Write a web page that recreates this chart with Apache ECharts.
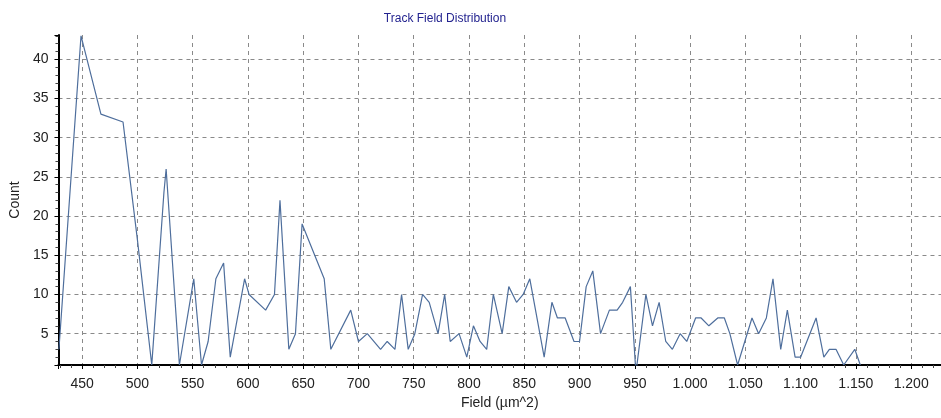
<!DOCTYPE html>
<html>
<head>
<meta charset="utf-8">
<title>Track Field Distribution</title>
<script src="https://cdn.jsdelivr.net/npm/echarts@6/dist/echarts.min.js"></script>
<style>
	html, body { margin: 0; padding: 0; background: #fff; }
	#chart { width: 941px; height: 418px; }
</style>
</head>
<body>
<div id="chart"></div>
<script>
// 横轴：面积 (µm^2)
const fieldValues = [
	429, 449, 467, 487, 500, 513, 524, 526, 538, 551,
	558, 564, 571, 578, 584, 597, 601, 616, 624, 629,
	637, 643, 649, 669, 675, 693, 700, 708, 720, 726,
	733, 739, 745, 751, 758, 764, 772, 778, 783, 791,
	798, 804, 810, 816, 822, 830, 836, 843, 849, 855,
	868, 875, 880, 887, 895, 900, 906, 912, 919, 927,
	934, 939, 946, 951, 960, 966, 972, 978, 984, 991,
	997, 1005, 1010, 1017, 1025, 1031, 1036, 1043, 1056, 1062,
	1069, 1075, 1082, 1088, 1095, 1100, 1114, 1121, 1126, 1132,
	1139, 1149, 1154,
];
// 纵轴：数量
const countValues = [
	3, 43, 33, 32, 17, 1, 23, 26, 1, 12,
	1, 4, 12, 14, 2, 12, 10, 8, 10, 22,
	3, 5, 19, 12, 3, 8, 4, 5, 3, 4,
	3, 10, 3, 5, 10, 9, 5, 10, 4, 5,
	2, 6, 4, 3, 10, 5, 11, 9, 10, 12,
	2, 9, 7, 7, 4, 4, 11, 13, 5, 8,
	8, 9, 11, 0, 10, 6, 9, 4, 3, 5,
	4, 7, 7, 6, 7, 7, 5, 1, 7, 5,
	7, 12, 3, 8, 2, 2, 7, 2, 3, 3,
	1, 3, 1,
];

const xMin = 428.6;
const xMax = 1227;
const yMin = 1;
const yMax = 43.1;

const fontFamily = "'Liberation Sans', Arial, sans-serif";
const gridLine = {
	show: true,
	showMinLine: false,
	showMaxLine: false,
	lineStyle: { color: "#8a8a8a", type: [4, 4], width: 1 },
};

// 千位用点号分隔，如 1.000
function formatField(v) {
	if (v >= 1000) {
		const s = String(Math.round(v));
		return s.slice(0, s.length - 3) + "." + s.slice(-3);
	}
	return String(v);
}

const chart = echarts.init(document.getElementById("chart"), null, { renderer: "canvas" });

const option = {
	animation: false,
	title: {
		text: "Track Field Distribution",
		left: 440,
		top: 8,
		textAlign: "center",
		textStyle: { color: "#23238f", fontSize: 12, fontWeight: "normal", fontFamily },
	},
	grid: { left: 57, right: 0, top: 35, bottom: 53, containLabel: false },
	xAxis: {
		type: "value",
		min: xMin,
		max: xMax,
		splitNumber: 16,
		name: "Field (µm^2)",
		nameLocation: "middle",
		nameGap: 24,
		nameTextStyle: { color: "#222", fontSize: 14, fontFamily },
		axisLine: { show: true, onZero: false, lineStyle: { color: "#000", width: 2 } },
		axisTick: { show: true, length: 4, lineStyle: { color: "#000" } },
		minorTick: { show: true, splitNumber: 5, length: 3, lineStyle: { color: "#444" } },
		axisLabel: {
			color: "#222",
			fontSize: 14,
			fontFamily,
			margin: 12,
			showMinLabel: false,
			showMaxLabel: false,
			formatter: formatField,
		},
		splitLine: gridLine,
	},
	yAxis: {
		type: "value",
		min: yMin,
		max: yMax,
		splitNumber: 8,
		name: "Count",
		nameLocation: "middle",
		nameGap: 33,
		nameTextStyle: { color: "#222", fontSize: 14, fontFamily },
		axisLine: { show: true, onZero: false, lineStyle: { color: "#000", width: 2 } },
		axisTick: { show: true, length: 4, lineStyle: { color: "#000" } },
		minorTick: { show: true, splitNumber: 5, length: 3, lineStyle: { color: "#444" } },
		axisLabel: {
			color: "#222",
			fontSize: 14,
			fontFamily,
			margin: 10,
			showMinLabel: false,
			showMaxLabel: false,
		},
		splitLine: gridLine,
	},
	series: [
		{
			type: "line",
			data: fieldValues.map((x, i) => [x, countValues[i]]),
			showSymbol: false,
			clip: true,
			lineStyle: { color: "#4e6e9c", width: 1.2 },
		},
	],
};

chart.setOption(option);
</script>
</body>
</html>
